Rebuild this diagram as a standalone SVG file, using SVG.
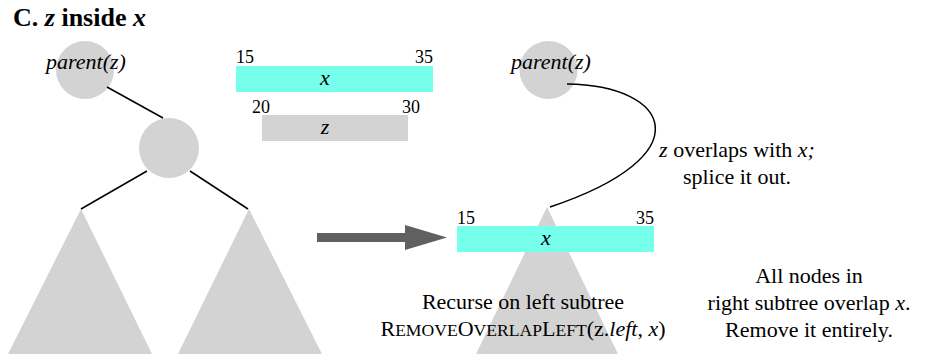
<svg xmlns="http://www.w3.org/2000/svg" width="928" height="358" viewBox="0 0 928 358">
  <style>
    text { font-family: 'Liberation Serif', 'DejaVu Serif', serif; fill: #000; }
    .title { font-size: 26px; font-weight: bold; }
    .lbl { font-size: 22px; }
    .num { font-size: 18px; }
    .it { font-style: italic; }
    .sc { font-size: 17.6px; }
    .node { fill: #d3d3d3; }
    .bar-x { fill: #76ffea; }
    .bar-z { fill: #d3d3d3; }
    .edge { stroke: #000; stroke-width: 1.5; fill: none; }
    .move { fill: #606060; }
  </style>

  <text class="title" x="13" y="26">C. <tspan class="it">z</tspan> inside <tspan class="it">x</tspan></text>

  <!-- left tree -->
  <g id="left-parent">
    <circle class="node" cx="85" cy="70" r="29"/>
    <text class="lbl it" x="86" y="69" text-anchor="middle">parent(z)</text>
  </g>
  <g id="left-z">
    <circle class="node" cx="169" cy="148" r="30"/>
  </g>
  <g id="left-left-subtree">
    <polygon class="node" points="81,209 8,354 152,354"/>
  </g>
  <g id="left-right-subtree">
    <polygon class="node" points="249,209 178,354 322,354"/>
  </g>

  <!-- intervals -->
  <g id="interval-x-top">
    <rect class="bar-x" x="236" y="66" width="197" height="26"/>
    <text class="num" x="236" y="63">15</text>
    <text class="num" x="433" y="63" text-anchor="end">35</text>
    <text class="lbl it" x="325" y="85" text-anchor="middle">x</text>
  </g>
  <g id="interval-z">
    <rect class="bar-z" x="262" y="115" width="146" height="26"/>
    <text class="num" x="252" y="113">20</text>
    <text class="num" x="420" y="113" text-anchor="end">30</text>
    <text class="lbl it" x="325" y="134" text-anchor="middle">z</text>
  </g>

  <!-- right tree -->
  <g id="right-parent">
    <circle class="node" cx="548.5" cy="70" r="29"/>
    <text class="lbl it" x="551" y="69" text-anchor="middle">parent(z)</text>
  </g>
  <g id="right-left-subtree">
    <polygon class="node" points="547,207 476,354 618,354"/>
  </g>
  <g id="interval-x-right">
    <rect class="bar-x" x="457" y="226" width="197" height="26"/>
    <text class="num" x="457" y="224">15</text>
    <text class="num" x="654" y="224" text-anchor="end">35</text>
    <text class="lbl it" x="546" y="245" text-anchor="middle">x</text>
  </g>

  <!-- connectors -->
  <g id="connectors">
    <line class="edge" x1="107" y1="87" x2="163" y2="118"/>
    <line class="edge" x1="147" y1="171" x2="81" y2="209"/>
    <line class="edge" x1="190" y1="171" x2="248" y2="209"/>
    <path class="edge" d="M567,84 C670,85 705,155 550,207"/>
    <polygon class="move" points="317,233 405,233 405,225 447,237.5 405,250 405,242 317,242"/>
  </g>

  <!-- captions -->
  <text class="lbl" x="737" y="157" text-anchor="middle"><tspan class="it">z</tspan> overlaps with <tspan class="it">x;</tspan></text>
  <text class="lbl" x="737" y="184" text-anchor="middle">splice it out.</text>

  <text class="lbl" x="523" y="309" text-anchor="middle">Recurse on left subtree</text>
  <text class="lbl" x="523" y="336" text-anchor="middle">R<tspan class="sc">EMOVE</tspan>O<tspan class="sc">VERLAP</tspan>L<tspan class="sc">EFT</tspan>(z.<tspan class="it">left</tspan>, <tspan class="it">x</tspan>)</text>

  <text class="lbl" x="809" y="283" text-anchor="middle">All nodes in</text>
  <text class="lbl" x="809" y="310" text-anchor="middle">right subtree overlap <tspan class="it">x</tspan>.</text>
  <text class="lbl" x="809" y="337" text-anchor="middle">Remove it entirely.</text>
</svg>
